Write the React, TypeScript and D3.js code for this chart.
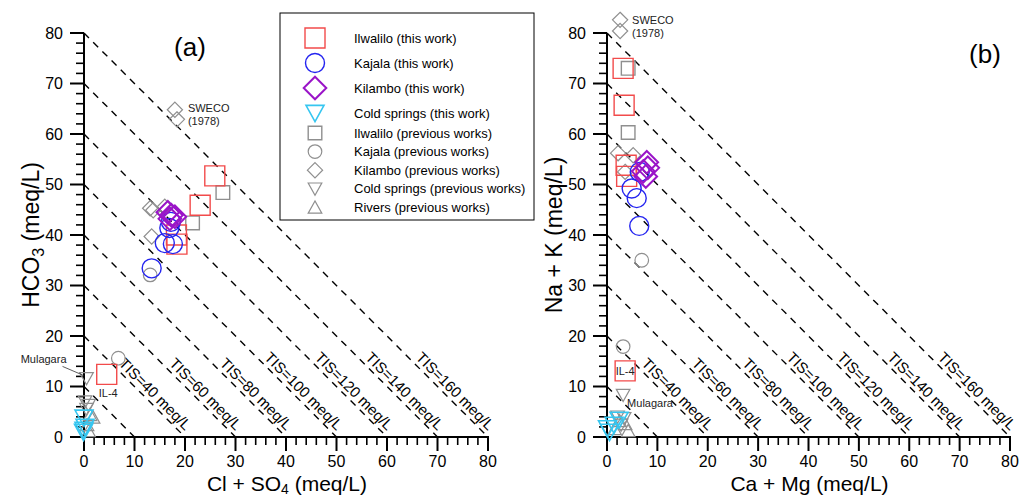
import React from 'react';
import * as d3 from 'd3';

type Pt = [number, number];

// ---------- data ----------
const tickValues = [0, 10, 20, 30, 40, 50, 60, 70, 80];
const minorTickValues = d3.range(0, 81, 2);
const tisLevels = [20, 40, 60, 80, 100, 120, 140, 160]; // TIS (meq/L), line: x + y = TIS/2
const tisLabelled = [40, 60, 80, 100, 120, 140, 160];

// Panel (a): [Cl + SO4, HCO3]
const ilwaliloThisA: Pt[] = [[25.9, 51.7], [23.0, 45.9], [18.3, 40.0], [18.4, 38.2], [4.5, 12.4]];
const kajalaThisA: Pt[] = [[17.2, 42.6], [16.9, 41.4], [16.0, 38.4], [17.6, 38.2], [13.4, 33.4]];
const kilamboThisA: Pt[] = [[16.6, 44.5], [17.3, 43.9], [17.0, 43.2], [18.0, 43.6]];
const coldThisA: Pt[] = [[0.0, 3.8], [0.2, 2.0], [0.0, 1.4], [-0.1, 1.0]];
const ilwaliloPrevA: Pt[] = [[27.5, 48.4], [21.5, 42.4]];
const kajalaPrevA: Pt[] = [[13.1, 32.1], [6.8, 15.6]];
const kilamboPrevA: Pt[] = [[13.1, 45.3], [13.7, 44.9], [16.0, 45.6], [13.4, 39.7], [18.0, 64.8], [18.4, 62.9]];
const coldPrevA: Pt[] = [[0.5, 11.6], [0.2, 7.0], [0.9, 6.3], [0.5, 5.5]];
const riversPrevA: Pt[] = [[1.2, 4.4], [1.8, 3.9], [0.6, 2.4], [0.9, 1.2]];

// Panel (b): [Ca + Mg, Na + K]
const ilwaliloThisB: Pt[] = [[3.2, 73.0], [3.4, 65.7], [3.8, 53.8], [3.9, 51.6], [3.6, 13.1]];
const kajalaThisB: Pt[] = [[6.5, 52.5], [4.9, 49.2], [5.9, 47.3], [6.4, 41.8]];
const kilamboThisB: Pt[] = [[7.9, 54.4], [8.1, 53.3], [7.2, 52.6], [7.7, 51.6]];
const coldThisB: Pt[] = [[0.5, 1.0], [1.4, 2.4], [0.1, 1.7], [2.4, 3.4]];
const ilwaliloPrevB: Pt[] = [[4.2, 73.0], [4.2, 60.3]];
const kajalaPrevB: Pt[] = [[6.9, 35.0], [3.2, 17.9]];
const kilamboPrevB: Pt[] = [[2.2, 56.2], [5.2, 55.8], [3.6, 52.5], [2.6, 82.6], [2.6, 80.4]];
const coldPrevB: Pt[] = [[3.2, 8.3], [2.1, 4.0], [3.4, 3.7], [2.8, 2.4]];
const riversPrevB: Pt[] = [[2.5, 3.2], [3.6, 2.6], [1.5, 1.6], [4.2, 1.2]];

const legendLabels = [
  'Ilwalilo (this work)',
  'Kajala (this work)',
  'Kilambo (this work)',
  'Cold springs (this work)',
  'Ilwalilo (previous works)',
  'Kajala (previous works)',
  'Kilambo (previous works)',
  'Cold springs (previous works)',
  'Rivers (previous works)',
];

// ---------- styles ----------
const FONT = 'Liberation Sans, Arial, Helvetica, sans-serif';
const RED = '#f24b4b';
const BLUE = '#2424f0';
const PURPLE = '#9a14c8';
const CYAN = '#36c6f0';
const GRAY = '#8f8f8f';

type ShapeKind = 'square' | 'circle' | 'diamond' | 'triDown' | 'triUp';
interface Style { kind: ShapeKind; size: number; color: string; sw: number }

const styles: Style[] = [
  { kind: 'square', size: 10, color: RED, sw: 1.4 },
  { kind: 'circle', size: 9.5, color: BLUE, sw: 1.4 },
  { kind: 'diamond', size: 11.3, color: PURPLE, sw: 2 },
  { kind: 'triDown', size: 9, color: CYAN, sw: 1.6 },
  { kind: 'square', size: 6.8, color: GRAY, sw: 1.4 },
  { kind: 'circle', size: 6.8, color: GRAY, sw: 1.2 },
  { kind: 'diamond', size: 7.6, color: GRAY, sw: 1.2 },
  { kind: 'triDown', size: 6.8, color: GRAY, sw: 1.2 },
  { kind: 'triUp', size: 6.8, color: GRAY, sw: 1.2 },
];

function Marker({ x, y, s }: { x: number; y: number; s: Style }) {
  const h = s.size;
  const common = { fill: 'none', stroke: s.color, strokeWidth: s.sw };
  if (s.kind === 'circle') return <circle cx={x} cy={y} r={h} {...common} />;
  let d = '';
  if (s.kind === 'square') d = `M${-h},${-h}h${2 * h}v${2 * h}h${-2 * h}Z`;
  else if (s.kind === 'diamond') d = `M0,${-h}L${h},0L0,${h}L${-h},0Z`;
  else if (s.kind === 'triDown') d = `M${-h},${-h * 0.85}L${h},${-h * 0.85}L0,${h * 0.95}Z`;
  else d = `M${-h},${h * 0.85}L${h},${h * 0.85}L0,${-h * 0.95}Z`;
  return <path d={d} transform={`translate(${x},${y})`} {...common} />;
}

interface PanelProps {
  x0: number; x1: number; y0: number; y1: number;
  series: Pt[][]; // in style order
  xTitle: React.ReactNode; yTitle: React.ReactNode;
  tag: string; tagX: number; tagY: number;
  children?: (x: d3.ScaleLinear<number, number>, y: d3.ScaleLinear<number, number>) => React.ReactNode;
}

function Panel({ x0, x1, y0, y1, series, xTitle, yTitle, tag, tagX, tagY, children }: PanelProps) {
  const x = d3.scaleLinear().domain([0, 80]).range([x0, x1]);
  const y = d3.scaleLinear().domain([0, 80]).range([y0, y1]);
  const drawOrder = [4, 5, 6, 7, 8, 0, 1, 2, 3];
  return (
    <g>
      {/* TIS lines */}
      {tisLevels.map((t) => {
        const s = t / 2;
        return (
          <line key={t} x1={x(0)} y1={y(s)} x2={x(s)} y2={y(0)}
            stroke="#000" strokeWidth={1.4} strokeDasharray="7,6" />
        );
      })}
      {tisLabelled.map((t) => {
        const s = t / 2;
        const px = x(s - 0.6), py = y(0.6);
        return (
          <text key={t} x={px} y={py} dy={-4} transform={`rotate(45,${px},${py})`}
            textAnchor="end" fontFamily={FONT} fontSize={15} fill="#000">
            {`TIS=${t} meq/L`}
          </text>
        );
      })}
      {/* axes */}
      <line x1={x0} x2={x1 + 1} y1={y0} y2={y0} stroke="#000" strokeWidth={2} />
      <line x1={x0} x2={x0} y1={y0 + 1} y2={y1} stroke="#000" strokeWidth={2} />
      {minorTickValues.map((v) => {
        const major = v % 10 === 0;
        const len = major ? 14 : 8;
        return (
          <g key={v}>
            <line x1={x(v)} x2={x(v)} y1={y0} y2={y0 + len} stroke="#000" strokeWidth={major ? 2 : 1.6} />
            <line x1={x0} x2={x0 - len} y1={y(v)} y2={y(v)} stroke="#000" strokeWidth={major ? 2 : 1.6} />
          </g>
        );
      })}
      {tickValues.map((v) => (
        <g key={v} fontFamily={FONT} fontSize={16} fill="#000">
          <text x={x(v)} y={y0 + 30} textAnchor="middle">{v}</text>
          <text x={x0 - 21} y={y(v)} dy="0.36em" textAnchor="end">{v}</text>
        </g>
      ))}
      <text x={(x0 + x1) / 2 + 1} y={491} textAnchor="middle" fontFamily={FONT} fontSize={21}>{xTitle}</text>
      <text transform={`translate(${x0 - 45},${(y0 + y1) / 2}) rotate(-90)`} textAnchor="middle"
        fontFamily={FONT} fontSize={23}>{yTitle}</text>
      <text x={tagX} y={tagY} textAnchor="middle" fontFamily={FONT} fontSize={26}>{tag}</text>
      {/* markers */}
      {drawOrder.map((i) => (
        <g key={i}>
          {series[i].map((p, j) => (
            <Marker key={j} x={x(p[0])} y={y(p[1])} s={styles[i]} />
          ))}
        </g>
      ))}
      {children && children(x, y)}
    </g>
  );
}

function Legend() {
  const left = 280, top = 13, w = 254, h = 207;
  const rowY = (i: number) => (i < 4 ? 38 + i * 25 : 133 + (i - 4) * 18.6);
  return (
    <g>
      <rect x={left} y={top} width={w} height={h} fill="#fff" stroke="#000" strokeWidth={1} />
      {legendLabels.map((lab, i) => (
        <g key={lab}>
          <Marker x={315} y={rowY(i)} s={styles[i]} />
          <text x={354} y={rowY(i)} dy="0.36em" fontFamily={FONT} fontSize={13} fill="#000">{lab}</text>
        </g>
      ))}
    </g>
  );
}

export default function App() {
  const seriesA = [ilwaliloThisA, kajalaThisA, kilamboThisA, coldThisA, ilwaliloPrevA, kajalaPrevA, kilamboPrevA, coldPrevA, riversPrevA];
  const seriesB = [ilwaliloThisB, kajalaThisB, kilamboThisB, coldThisB, ilwaliloPrevB, kajalaPrevB, kilamboPrevB, coldPrevB, riversPrevB];
  const sweA = kilamboPrevA[4];
  const sweB = kilamboPrevB[3];
  const il4A = ilwaliloThisA[4];
  const il4B = ilwaliloThisB[4];
  const mulA = coldPrevA[0];
  const mulB = coldPrevB[0];
  return (
    <svg width={1023} height={498} style={{ position: 'absolute', left: 0, top: 0, background: '#fff' }}>
      <rect width={1023} height={498} fill="#fff" />
      <Panel x0={84} x1={488} y0={437} y1={33} series={seriesA}
        xTitle={<>Cl + SO<tspan dy={3} fontSize={14}>4</tspan><tspan dy={-3}> (meq/L)</tspan></>}
        yTitle={<>HCO<tspan dy={5} fontSize={16}>3</tspan><tspan dy={-5}> (meq/L)</tspan></>}
        tag="(a)" tagX={190} tagY={56}>
        {(x, y) => (
          <g fontFamily={FONT} fontSize={11} fill="#222">
            <text x={x(sweA[0]) + 13} y={y(sweA[1]) + 2}>SWECO</text>
            <text x={x(sweA[0]) + 13} y={y(sweA[1]) + 15}>(1978)</text>
            <text x={x(il4A[0]) - 8} y={y(il4A[1]) + 23}>IL-4</text>
            <text x={x(mulA[0]) - 20} y={y(mulA[1]) - 15} textAnchor="end">Mulagara</text>
            <line x1={x(mulA[0]) - 24} y1={y(mulA[1]) - 12} x2={x(mulA[0]) - 3} y2={y(mulA[1]) - 3}
              stroke="#333" strokeWidth={0.8} />
          </g>
        )}
      </Panel>
      <Panel x0={607} x1={1010} y0={437} y1={33} series={seriesB}
        xTitle={<>Ca + Mg (meq/L)</>}
        yTitle={<>Na + K (meq/L)</>}
        tag="(b)" tagX={985} tagY={63}>
        {(x, y) => (
          <g fontFamily={FONT} fontSize={11} fill="#222">
            <text x={x(sweB[0]) + 12} y={y(sweB[1]) + 4}>SWECO</text>
            <text x={x(sweB[0]) + 12} y={y(sweB[1]) + 17}>(1978)</text>
            <text x={x(il4B[0])} y={y(il4B[1])} dy="0.36em" textAnchor="middle">IL-4</text>
            <text x={x(mulB[0]) + 4} y={y(mulB[1]) + 12}>Mulagara</text>
          </g>
        )}
      </Panel>
      <Legend />
    </svg>
  );
}
